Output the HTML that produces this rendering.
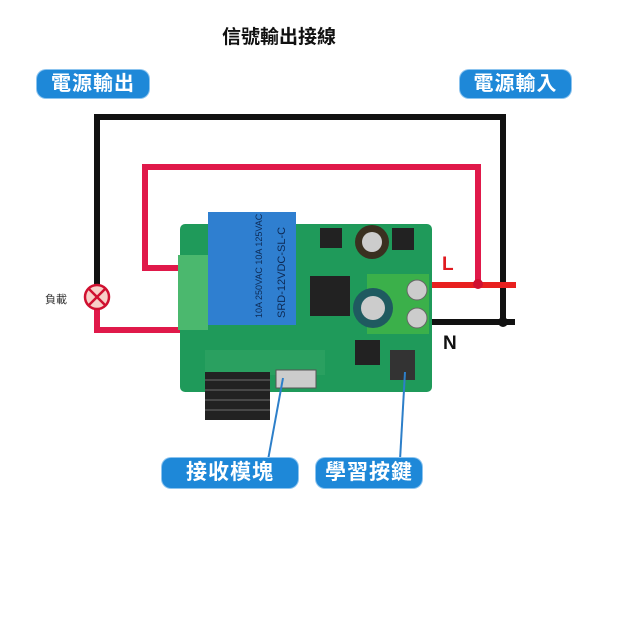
<!DOCTYPE html>
<html><head><meta charset="utf-8"><style>
body{margin:0;width:640px;height:640px;background:#fff;overflow:hidden;position:relative;font-family:"Liberation Sans","Noto Sans CJK TC",sans-serif}
.lbl{position:absolute;background:#1e88d8;border-radius:9px;color:#fff;font-weight:bold;text-align:center;box-shadow:0 0 0 1px #8cc4ef;letter-spacing:1px}
</style></head><body>
<div style="position:absolute;left:222px;top:22px;font-size:19px;font-weight:bold;color:#111">信號輸出接線</div>
<div class="lbl" style="left:37px;top:70px;width:112px;height:28px;line-height:28px;font-size:20px">電源輸出</div>
<div class="lbl" style="left:460px;top:70px;width:111px;height:28px;line-height:28px;font-size:20px">電源輸入</div>
<svg width="640" height="640" style="position:absolute;left:0;top:0">
<polyline points="97,285 97,117 503,117 503,322 515,322" fill="none" stroke="#111" stroke-width="6"/>
<polyline points="420,322 503,322" stroke="#111" stroke-width="6"/>
<polyline points="190,268 145,268 145,167 478,167 478,284" fill="none" stroke="#e0194a" stroke-width="6"/>
<line x1="420" y1="285" x2="516" y2="285" stroke="#e8201f" stroke-width="6"/>
<polyline points="97,309 97,330 192,330" fill="none" stroke="#e0194a" stroke-width="6"/>
<circle cx="478" cy="284" r="5" fill="#d01030"/><circle cx="503" cy="322" r="5" fill="#111"/>
<circle cx="97" cy="297" r="12" fill="#f7d0c8" stroke="#d01030" stroke-width="2.5"/>
<line x1="89" y1="289" x2="105" y2="305" stroke="#d01030" stroke-width="2.5"/><line x1="105" y1="289" x2="89" y2="305" stroke="#d01030" stroke-width="2.5"/>
<rect x="180" y="224" width="252" height="168" rx="5" fill="#1f9a5a"/>
<rect x="178" y="255" width="30" height="75" fill="#4bb86e"/>
<rect x="208" y="212" width="88" height="113" fill="#2f7fd0"/>
<text transform="translate(262,318) rotate(-90)" font-size="9" fill="#0d2a55" font-family="Liberation Sans">10A 250VAC 10A 125VAC</text>
<text transform="translate(285,318) rotate(-90)" font-size="11" fill="#0d2a55" font-family="Liberation Sans">SRD-12VDC-SL-C</text>
<rect x="367" y="274" width="62" height="60" fill="#3bb04a"/>
<circle cx="417" cy="290" r="10" fill="#ccc" stroke="#666"/><circle cx="417" cy="318" r="10" fill="#ccc" stroke="#666"/>
<circle cx="372" cy="242" r="17" fill="#3a3020"/><circle cx="372" cy="242" r="10" fill="#ccc"/>
<circle cx="373" cy="308" r="20" fill="#1f5a60"/><circle cx="373" cy="308" r="12" fill="#ccc"/>
<rect x="310" y="276" width="40" height="40" fill="#222"/>
<rect x="320" y="228" width="22" height="20" fill="#222"/><rect x="392" y="228" width="22" height="22" fill="#222"/>
<rect x="355" y="340" width="25" height="25" fill="#222"/><rect x="390" y="350" width="25" height="30" fill="#333"/>
<rect x="205" y="350" width="120" height="25" fill="#2aa060"/>
<rect x="276" y="370" width="40" height="18" fill="#ccc" stroke="#555"/>
<rect x="205" y="372" width="65" height="48" fill="#222"/>
<g stroke="#555" stroke-width="1.5"><line x1="205" y1="380" x2="270" y2="380"/><line x1="205" y1="390" x2="270" y2="390"/><line x1="205" y1="400" x2="270" y2="400"/><line x1="205" y1="410" x2="270" y2="410"/></g>
<polyline points="283,378 268,460" stroke="#2d7fc9" stroke-width="2" fill="none"/>
<polyline points="405,372 400,460" stroke="#2d7fc9" stroke-width="2" fill="none"/>
</svg>
<div style="position:absolute;left:442px;top:254px;font-size:19px;font-weight:bold;color:#e01a20">L</div>
<div style="position:absolute;left:443px;top:333px;font-size:19px;font-weight:bold;color:#111">N</div>
<div style="position:absolute;left:45px;top:291px;font-size:11px;color:#333">負載</div>
<div class="lbl" style="left:162px;top:458px;width:136px;height:30px;line-height:30px;font-size:21px">接收模塊</div>
<div class="lbl" style="left:316px;top:458px;width:106px;height:30px;line-height:30px;font-size:21px">學習按鍵</div>
</body></html>
